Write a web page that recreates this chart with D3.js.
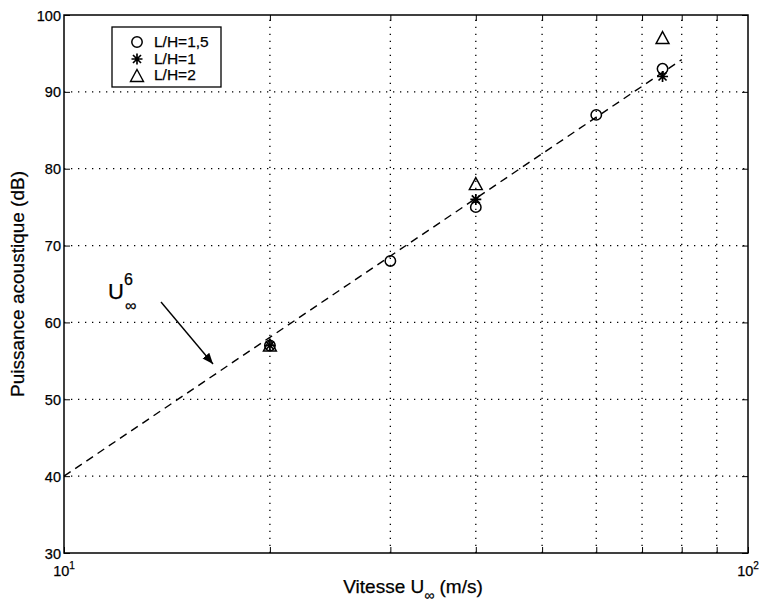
<!DOCTYPE html>
<html><head><meta charset="utf-8">
<script src="https://cdn.jsdelivr.net/npm/d3@7"></script>
<style>body{margin:0;background:#fff}svg{display:block}text{font-family:"Liberation Sans",Arial,sans-serif;fill:#000;stroke:#000;stroke-width:0.25px}</style>
</head><body><div id="c"></div>
<script>
const speeds15 = [20, 30, 40, 60, 75];
const values15 = [57, 68, 75, 87, 93];
const speeds1 = [20, 40, 75];
const values1 = [57, 76, 92];
const speeds2 = [20, 40, 75];
const values2 = [57, 78, 97];
const fitSpeeds = [10, 80];
const fitValues = [40, 94.2];
const yTicks = [30, 40, 50, 60, 70, 80, 90, 100];
const xGrid = [20, 30, 40, 50, 60, 70, 80, 90];
const legendLabels = ["L/H=1,5", "L/H=1", "L/H=2"];

const W = 761, H = 605;
const m = {l: 64, r: 13, t: 15, b: 52};
const svg = d3.select("#c").append("svg").attr("width", W).attr("height", H);
const x = d3.scaleLog().domain([10, 100]).range([m.l, W - m.r]);
const y = d3.scaleLinear().domain([30, 100]).range([H - m.b, m.t]);
const g = svg.append("g");

// grid
g.selectAll(".gx").data(xGrid).join("line")
  .attr("x1", d => x(d)).attr("x2", d => x(d)).attr("y1", y(30)).attr("y2", y(100))
  .attr("stroke", "#000").attr("stroke-width", 1.3).attr("stroke-dasharray", "1.3,5.7");
g.selectAll(".gy").data(yTicks.slice(1, -1)).join("line")
  .attr("x1", x(10)).attr("x2", x(100)).attr("y1", d => y(d)).attr("y2", d => y(d))
  .attr("stroke", "#000").attr("stroke-width", 1.3).attr("stroke-dasharray", "1.3,5.7");

// axes
const yAxis = d3.axisLeft(y).tickValues(yTicks).tickSize(-6).tickPadding(6).tickFormat(d3.format("d"));
const ya = svg.append("g").attr("transform", `translate(${m.l},0)`).call(yAxis);
ya.select(".domain").remove();
ya.selectAll("line").attr("stroke", "#000");
ya.selectAll("text").attr("font-size", 14.5).attr("dy", "0.35em").attr("x", -3);
const yar = svg.append("g").attr("transform", `translate(${W - m.r},0)`).call(d3.axisRight(y).tickValues(yTicks).tickSize(-6).tickFormat(""));
yar.select(".domain").remove(); yar.selectAll("line").attr("stroke", "#000");
const xab = svg.append("g").attr("transform", `translate(0,${H - m.b})`).call(d3.axisBottom(x).tickValues(xGrid.concat([10, 100])).tickSize(-6).tickFormat(""));
xab.select(".domain").remove(); xab.selectAll("line").attr("stroke", "#000");
const xat = svg.append("g").attr("transform", `translate(0,${m.t})`).call(d3.axisTop(x).tickValues(xGrid).tickSize(-6).tickFormat(""));
xat.select(".domain").remove(); xat.selectAll("line").attr("stroke", "#000");

svg.append("rect").attr("x", x(10)).attr("y", y(100)).attr("width", x(100) - x(10)).attr("height", y(30) - y(100))
  .attr("fill", "none").attr("stroke", "#000").attr("stroke-width", 1.5);

// x decade labels
[10, 100].forEach(v => {
  const t = svg.append("text").attr("x", x(v)).attr("y", H - m.b + 23).attr("font-size", 14.5).attr("text-anchor", "middle");
  t.append("tspan").text("10");
  t.append("tspan").attr("font-size", 10).attr("dy", -7).text(v === 10 ? "1" : "2");
});

// axis titles
svg.append("text").attr("transform", `translate(24,${(y(30) + y(100)) / 2}) rotate(-90)`)
  .attr("text-anchor", "middle").attr("font-size", 19).text("Puissance acoustique (dB)");
const xt = svg.append("text").attr("x", 413).attr("y", 593).attr("text-anchor", "middle").attr("font-size", 19);
xt.append("tspan").text("Vitesse U");
xt.append("tspan").attr("font-size", 14).attr("dy", 7).text("∞");
xt.append("tspan").attr("dy", -7).text("  (m/s)");

// fit line
svg.append("path").datum(fitSpeeds.map((s, i) => [s, fitValues[i]]))
  .attr("d", d3.line().x(d => x(d[0])).y(d => y(d[1])))
  .attr("fill", "none").attr("stroke", "#000").attr("stroke-width", 1.4).attr("stroke-dasharray", "8,5.5");

// markers
const circ = (sel) => sel.append("circle").attr("r", 5.2).attr("fill", "none").attr("stroke", "#000").attr("stroke-width", 1.5);
const star = (sel) => sel.append("path").attr("d", "M-5.5,0H5.5M0,-5.5V5.5M-4,-4L4,4M-4,4L4,-4").attr("stroke", "#000").attr("stroke-width", 1.7);
const tri = (sel) => sel.append("path").attr("d", "M0,-6.5L6.5,5.5H-6.5Z").attr("fill", "none").attr("stroke", "#000").attr("stroke-width", 1.4);

speeds15.forEach((s, i) => circ(svg.append("g").attr("transform", `translate(${x(s)},${y(values15[i])})`)));
speeds1.forEach((s, i) => star(svg.append("g").attr("transform", `translate(${x(s)},${y(values1[i])})`)));
speeds2.forEach((s, i) => tri(svg.append("g").attr("transform", `translate(${x(s)},${y(values2[i])})`)));

// annotation
const ann = svg.append("text").attr("x", 108).attr("y", 299).attr("font-size", 22);
ann.append("tspan").text("U");
ann.append("tspan").attr("font-size", 16).attr("dy", -14).text("6");
svg.append("text").attr("x", 125).attr("y", 311).attr("font-size", 16).text("∞");
svg.append("defs").append("marker").attr("id", "ah").attr("viewBox", "0 0 10 10").attr("refX", 10).attr("refY", 5)
  .attr("markerWidth", 11).attr("markerHeight", 11).attr("markerUnits", "userSpaceOnUse").attr("orient", "auto")
  .append("path").attr("d", "M0,1L10,5L0,9Z").attr("fill", "#000");
svg.append("line").attr("x1", 161).attr("y1", 302).attr("x2", 213).attr("y2", 364)
  .attr("stroke", "#000").attr("stroke-width", 1.4).attr("marker-end", "url(#ah)");

// legend
const lg = svg.append("g");
lg.append("rect").attr("x", 112).attr("y", 27).attr("width", 109).attr("height", 60).attr("fill", "#fff").attr("stroke", "#000").attr("stroke-width", 1.3);
const rows = [42, 59, 75];
const mk = [circ, star, tri];
legendLabels.forEach((l, i) => {
  mk[i](lg.append("g").attr("transform", `translate(137,${rows[i] + (i === 2 ? 1 : 0)})`));
  lg.append("text").attr("x", 154).attr("y", rows[i]).attr("dy", "0.35em").attr("font-size", 15.5).text(l);
});
</script></body></html>
